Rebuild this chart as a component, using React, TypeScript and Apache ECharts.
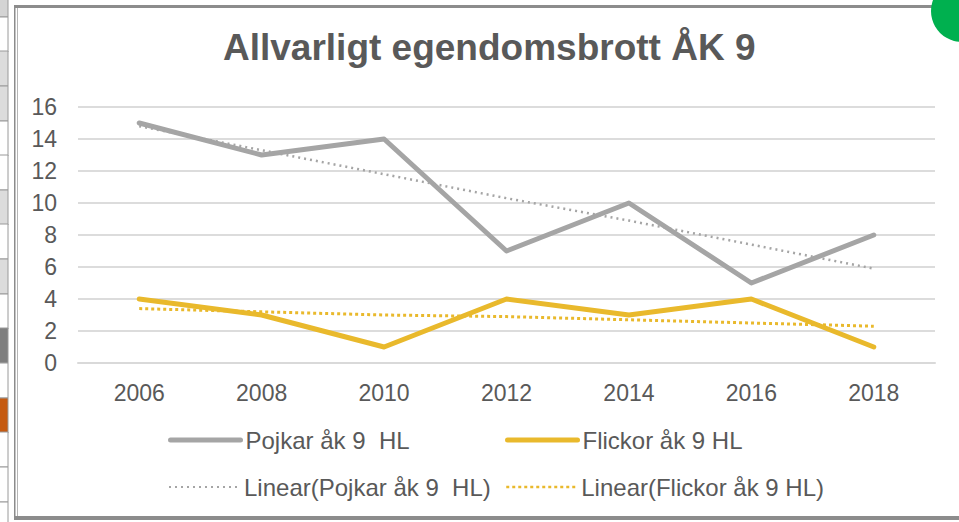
import React, { useEffect, useRef } from "react";
import * as echarts from "echarts";

const years = ["2006", "2008", "2010", "2012", "2014", "2016", "2018"];
const pojkar = [15, 13, 14, 7, 10, 5, 8];
const flickor = [4, 3, 1, 4, 3, 4, 1];
const trendPojkar = [14.8, 13.3, 11.8, 10.3, 8.9, 7.4, 5.9];
const trendFlickor = [3.4, 3.2, 3.0, 2.9, 2.7, 2.5, 2.3];

const NAME_P = "Pojkar åk 9  HL";
const NAME_F = "Flickor åk 9 HL";
const NAME_TP = "Linear(Pojkar åk 9  HL)";
const NAME_TF = "Linear(Flickor åk 9 HL)";

const GRAY = "#a5a5a5";
const GOLD = "#e9b92c";
const TEXT = "#595959";
const FONT = "'Liberation Sans', Arial, sans-serif";

export default function App() {
  const ref = useRef<HTMLDivElement>(null);
  useEffect(() => {
    if (!ref.current) return;
    const chart = echarts.init(ref.current, undefined, { renderer: "svg" });

    const stripCells: any[] = [];
    const stripColors = [
      "#d4d4d4", "#ffffff", "#dcdcdc", "#dcdcdc", "#ffffff", "#ffffff", "#dcdcdc",
      "#ffffff", "#dcdcdc", "#ffffff", "#7f7f7f", "#ffffff", "#c55a11", "#ffffff",
      "#ffffff", "#ffffff",
    ];
    const rowTops = [-18, 17, 51, 86, 121, 155, 190, 224, 259, 294, 328, 363, 398, 432, 467, 502];
    rowTops.forEach((t, i) => {
      stripCells.push({
        type: "rect",
        shape: { x: -1, y: t, width: 9, height: 35 },
        style: { fill: stripColors[i], stroke: "#9a9a9a", lineWidth: 1 },
        silent: true,
      });
    });

    const legendBase = {
      itemWidth: 70,
      itemHeight: 12,
      textStyle: { fontSize: 24, color: TEXT, fontFamily: FONT },
      itemStyle: { color: "transparent", borderWidth: 0, opacity: 0 },
      padding: 0,
    };

    chart.setOption({
      animation: false,
      backgroundColor: "#ffffff",
      title: {
        text: "Allvarligt egendomsbrott ÅK 9",
        left: 223,
        top: 29,
        padding: 0,
        textStyle: { fontSize: 37, fontWeight: "bold", color: TEXT, fontFamily: FONT },
      },
      grid: { left: 78, top: 107, width: 857, height: 256, containLabel: false },
      xAxis: {
        type: "category",
        data: years,
        boundaryGap: true,
        axisLine: { show: true, lineStyle: { color: "#d9d9d9", width: 2 } },
        axisTick: { show: false },
        axisLabel: { color: TEXT, fontSize: 23, fontFamily: FONT, margin: 18 },
      },
      yAxis: {
        type: "value",
        min: 0,
        max: 16,
        interval: 2,
        axisLine: { show: false },
        axisTick: { show: false },
        axisLabel: { color: TEXT, fontSize: 23, fontFamily: FONT, margin: 21 },
        splitLine: { lineStyle: { color: "#dcdcdc", width: 2 } },
      },
      legend: [
        { ...legendBase, data: [NAME_P], left: 168, top: 428, lineStyle: { width: 5, color: GRAY } },
        { ...legendBase, data: [NAME_F], left: 505, top: 428, lineStyle: { width: 5, color: GOLD } },
        { ...legendBase, data: [NAME_TP], left: 168, top: 475, lineStyle: { width: 2, type: [2, 4], color: GRAY } },
        { ...legendBase, data: [NAME_TF], left: 505, top: 475, lineStyle: { width: 2.5, type: [3, 3], color: GOLD } },
      ],
      series: [
        {
          name: NAME_P,
          type: "line",
          data: pojkar,
          symbol: "none",
          lineStyle: { color: GRAY, width: 5, cap: "round", join: "round" },
          itemStyle: { color: GRAY },
          z: 3,
        },
        {
          name: NAME_F,
          type: "line",
          data: flickor,
          symbol: "none",
          lineStyle: { color: GOLD, width: 5, cap: "round", join: "round" },
          itemStyle: { color: GOLD },
          z: 3,
        },
        {
          name: NAME_TP,
          type: "line",
          data: trendPojkar,
          symbol: "none",
          lineStyle: { color: GRAY, width: 2.5, type: [2, 4] },
          itemStyle: { color: GRAY },
          z: 4,
        },
        {
          name: NAME_TF,
          type: "line",
          data: trendFlickor,
          symbol: "none",
          lineStyle: { color: GOLD, width: 3, type: [3, 3] },
          itemStyle: { color: GOLD },
          z: 4,
        },
      ],
      graphic: [
        ...stripCells,
        { type: "rect", shape: { x: 14, y: 5, width: 950, height: 3 }, style: { fill: "#8c8c8c" }, silent: true },
        { type: "rect", shape: { x: 14, y: 5, width: 1.5, height: 515 }, style: { fill: "#8c8c8c" }, silent: true },
        { type: "rect", shape: { x: 17, y: 8, width: 1, height: 510 }, style: { fill: "#b5b5b5" }, silent: true },
        { type: "rect", shape: { x: 14, y: 516, width: 950, height: 4 }, style: { fill: "#8c8c8c" }, silent: true },
        { type: "circle", shape: { cx: 962, cy: 11, r: 31 }, style: { fill: "#00b04f" }, silent: true },
      ],
    });
    return () => chart.dispose();
  }, []);

  return (
    <div
      ref={ref}
      style={{ position: "fixed", left: 0, top: 0, width: 959, height: 522, background: "#fff" }}
    />
  );
}
